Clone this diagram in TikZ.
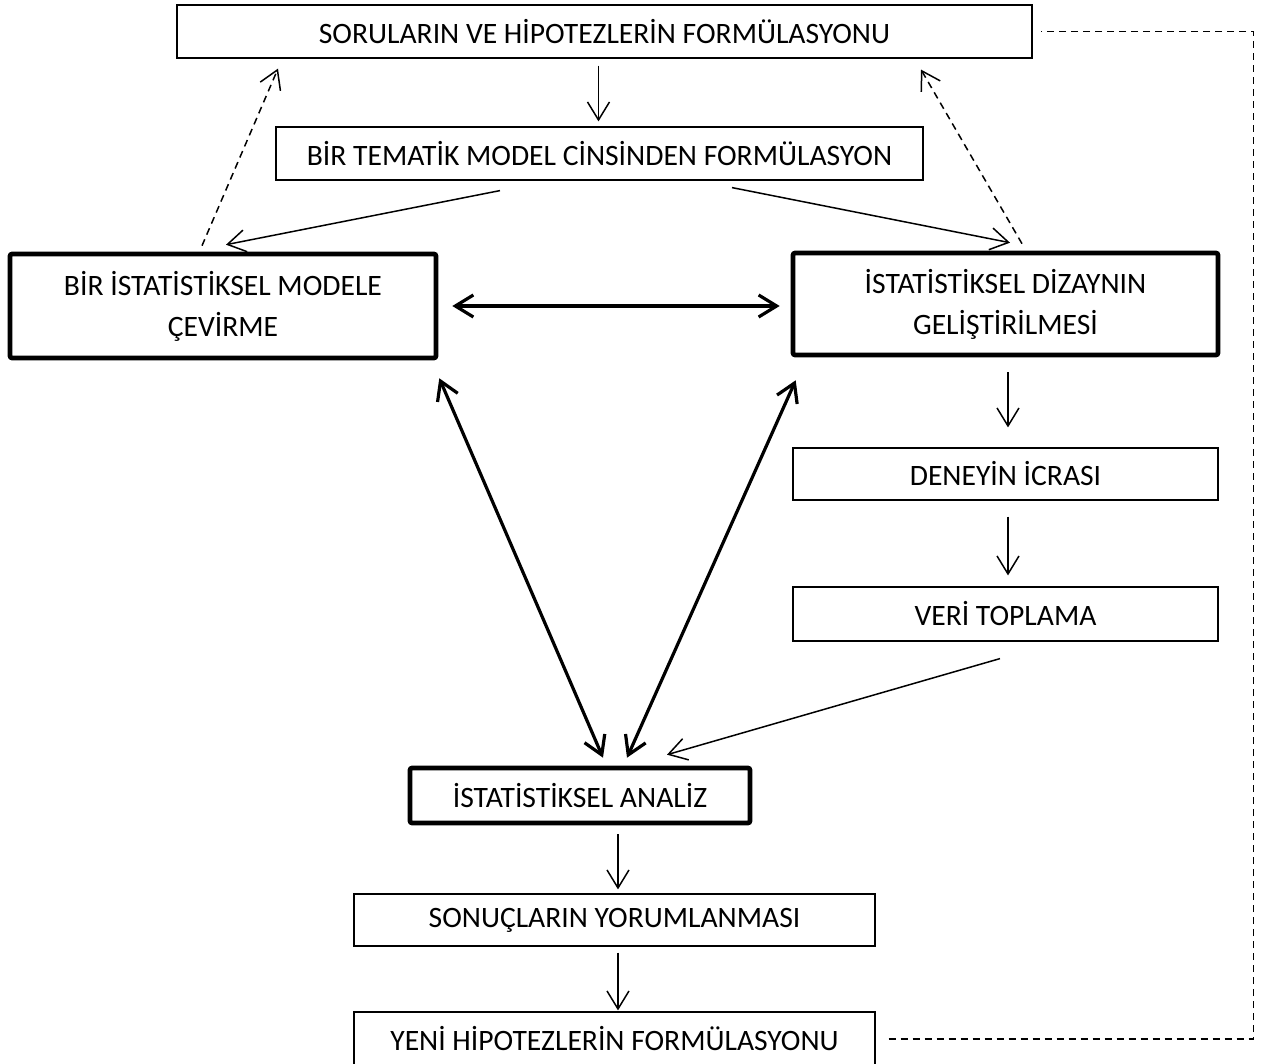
\documentclass[tikz,border=0pt]{standalone}
\usepackage{fontspec}
\setmainfont{Carlito}
\usetikzlibrary{arrows.meta,calc}

\begin{document}
\begin{tikzpicture}[x=0.5pt,y=-0.5pt,
    box/.style={draw,line width=0.6pt,inner sep=0pt,align=center,
      font=\fontsize{14.8}{20.5}\selectfont},
    bigbox/.style={box,line width=2.3pt,rounded corners=1pt},
    arr/.style={-{Straight Barb[length=9pt,width=11pt]},line width=0.75pt},
    darr/.style={{Straight Barb[length=9pt,width=11pt]}-{Straight Barb[length=9pt,width=11pt]},line width=1.6pt},
    backlink/.style={line width=0.75pt,dash pattern=on 3.5pt off 2.5pt}]
        \useasboundingbox (0,0) rectangle (1271,1064);
        %% boxes
        \node[box,minimum width=427.5pt,minimum height=26.5pt] (soru) at (604.5,31.5) {SORULARIN VE HİPOTEZLERİN FORMÜLASYONU};
        \node[box,minimum width=323.5pt,minimum height=26.5pt] (tema) at (599.5,153.5) {BİR TEMATİK MODEL CİNSİNDEN FORMÜLASYON};
        \node[bigbox,minimum width=213pt,minimum height=52pt] (model) at (223,306) {BİR İSTATİSTİKSEL MODELE\\ÇEVİRME};
        \node[bigbox,minimum width=212.5pt,minimum height=51pt] (dizayn) at (1005.5,304) {İSTATİSTİKSEL DİZAYNIN\\GELİŞTİRİLMESİ};
        \node[box,minimum width=212.5pt,minimum height=26pt] (deney) at (1005.5,474) {DENEYİN İCRASI};
        \node[box,minimum width=212.5pt,minimum height=27pt] (veri) at (1005.5,614) {VERİ TOPLAMA};
        \node[bigbox,minimum width=170pt,minimum height=27.5pt] (analiz) at (580,795.5) {İSTATİSTİKSEL ANALİZ};
        \node[box,minimum width=260.5pt,minimum height=26pt] (sonuc) at (614.5,920) {SONUÇLARIN YORUMLANMASI};
        \node[box,minimum width=260.5pt,minimum height=27pt] (yeni) at (614.5,1039) {YENİ HİPOTEZLERİN FORMÜLASYONU};
        %% thin arrows
        \draw[arr] ($(soru.south)+(-6,7)$) -- ($(tema.north)+(-1,-5)$);
        \draw[arr] ($(tema.south)+(-99.5,10)$) -- ($(model.north)+(3,-7)$);
        \draw[arr] ($(tema.south)+(132.5,7)$) -- ($(dizayn.north)+(4.5,-8)$);
        \draw[arr] ($(dizayn.south)+(2.5,15)$) -- ($(deney.north)+(2.5,-20)$);
        \draw[arr] ($(deney.south)+(2.5,16)$) -- ($(veri.north)+(2.5,-11)$);
        \draw[arr] ($(veri.south)+(-5.5,17)$) -- ($(analiz.north)+(87,-11)$);
        \draw[arr] ($(analiz.south)+(38,9)$) -- ($(sonuc.north)+(3.5,-4)$);
        \draw[arr] ($(sonuc.south)+(3.5,6)$) -- ($(yeni.north)+(3.5,-1)$);
        %% dashed arrows back to the questions
        \draw[arr,backlink] ($(model.north)+(-21,-6)$) -- ($(soru.south)+(-326.5,10)$);
        \draw[arr,backlink] ($(dizayn.north)+(16.5,-7)$) -- ($(soru.south)+(316.5,11)$);
        %% thick two-way arrows
        \draw[darr] ($(model.east)+(14,0)$) -- ($(dizayn.west)+(-11,2)$);
        \draw[darr] ($(model.south east)+(1,18)$) -- ($(analiz.north)+(23,-8)$);
        \draw[darr] ($(dizayn.south west)+(5,23)$) -- ($(analiz.north)+(47,-8)$);
        %% feedback loop
        \draw[backlink] ($(yeni.east)+(13,0)$) -| ($(soru.east)+(221,0)$) -- ($(soru.east)+(8,0)$);
\end{tikzpicture}
\end{document}
